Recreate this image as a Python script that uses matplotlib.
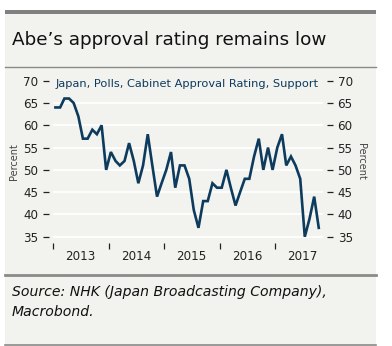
import pandas as pd
import matplotlib.pyplot as plt
import matplotlib.dates as mdates
from matplotlib.patches import Rectangle
from matplotlib.lines import Line2D

# NHK cabinet approval, monthly, Jan 2013 - Oct 2017
support_2013 = [64, 64, 66, 66, 65, 62, 57, 57, 59, 58, 60, 50]
support_2014 = [54, 52, 51, 52, 56, 52, 47, 51, 58, 51, 44, 47]
support_2015 = [50, 54, 46, 51, 51, 48, 41, 37, 43, 43, 47, 46]
support_2016 = [46, 50, 46, 42, 45, 48, 48, 53, 57, 50, 55, 50]
support_2017 = [55, 58, 51, 53, 51, 48, 35, 39, 44, 37]
support = support_2013 + support_2014 + support_2015 + support_2016 + support_2017
months = pd.date_range("2013-01-01", periods=len(support), freq="MS") + pd.Timedelta(days=14)
y_ticks = [35, 40, 45, 50, 55, 60, 65, 70]

title = "Abe\u2019s approval rating remains low"
series_name = "Japan, Polls, Cabinet Approval Rating, Support"
source = "Source: NHK (Japan Broadcasting Company),\nMacrobond."

bg = "#f2f2ee"
navy = "#0d3b5e"
W, H = 392, 346

fig = plt.figure(figsize=(W / 100, H / 100), dpi=100)
fig.patch.set_facecolor("white")

def fx(px):
    return px / W

def fy(py):
    return 1 - py / H

# panel, header bar and separators
fig.patches.append(Rectangle((fx(5), fy(346)), fx(371), 336 / H, transform=fig.transFigure,
                             facecolor=bg, edgecolor="none", zorder=-2))
fig.patches.append(Rectangle((fx(5), fy(13.7)), fx(371), 3.7 / H, transform=fig.transFigure,
                             facecolor="#808080", edgecolor="none", zorder=-1))
for yy, lw in [(66.5, 1.0), (275, 2.0), (345, 1.2)]:
    fig.lines.append(Line2D([fx(5), fx(376)], [fy(yy), fy(yy)], transform=fig.transFigure,
                            color="#8a8a8a", linewidth=lw, zorder=-1))

fig.text(fx(12), fy(40), title, fontsize=13.2, color="#111111", va="center", ha="left")
fig.text(fx(12), fy(302), source, fontsize=10.1, style="italic", color="#111111",
         va="center", ha="left", linespacing=1.6)

# chart
top_px, bot_px = 80.7, 243
ax = fig.add_axes([fx(53), fy(bot_px), fx(323 - 53), (bot_px - top_px) / H])
ax.set_zorder(2)
ax.set_facecolor(bg)
ax.plot(months, support, color=navy, linewidth=1.9, solid_joinstyle="miter", zorder=3)

ax.set_ylim(33.6, 70)
ax.set_xlim(pd.Timestamp("2012-12-30"), pd.Timestamp("2017-11-12"))
for v in y_ticks[:-1]:
    ax.axhline(v, color="white", linewidth=1.3, zorder=1)

for s in ax.spines.values():
    s.set_visible(False)
ax.spines["left"].set_position(("outward", 3))
ax.spines["right"].set_position(("outward", 3))

ax.set_yticks(y_ticks)
ax.tick_params(axis="y", which="both", left=True, right=True, labelleft=True, labelright=True,
               length=4.5, width=0.9, color="#222222", labelsize=8.6, labelcolor="#222222", pad=3)

ax.xaxis.set_major_locator(mdates.YearLocator())
ax.xaxis.set_minor_locator(mdates.MonthLocator(bymonth=7, bymonthday=1))
ax.xaxis.set_major_formatter(plt.NullFormatter())
ax.xaxis.set_minor_formatter(mdates.DateFormatter("%Y"))
ax.tick_params(axis="x", which="major", length=4.5, width=0.9, color="#222222", direction="out")
ax.tick_params(axis="x", which="minor", length=0, labelsize=8.6, labelcolor="#222222", pad=5)

ax.set_ylabel("Percent", fontsize=7, color="#444444", labelpad=3)
rax = ax.secondary_yaxis("right")
rax.set_yticks([])
rax.spines["right"].set_visible(False)
rax.set_ylabel("Percent", fontsize=7, color="#444444", rotation=270, labelpad=31)

ax.text(0.008, 69.2, series_name, transform=ax.get_yaxis_transform(), fontsize=8.2,
        color=navy, va="center", ha="left")

fig.savefig("out.png", dpi=100, facecolor="white")
